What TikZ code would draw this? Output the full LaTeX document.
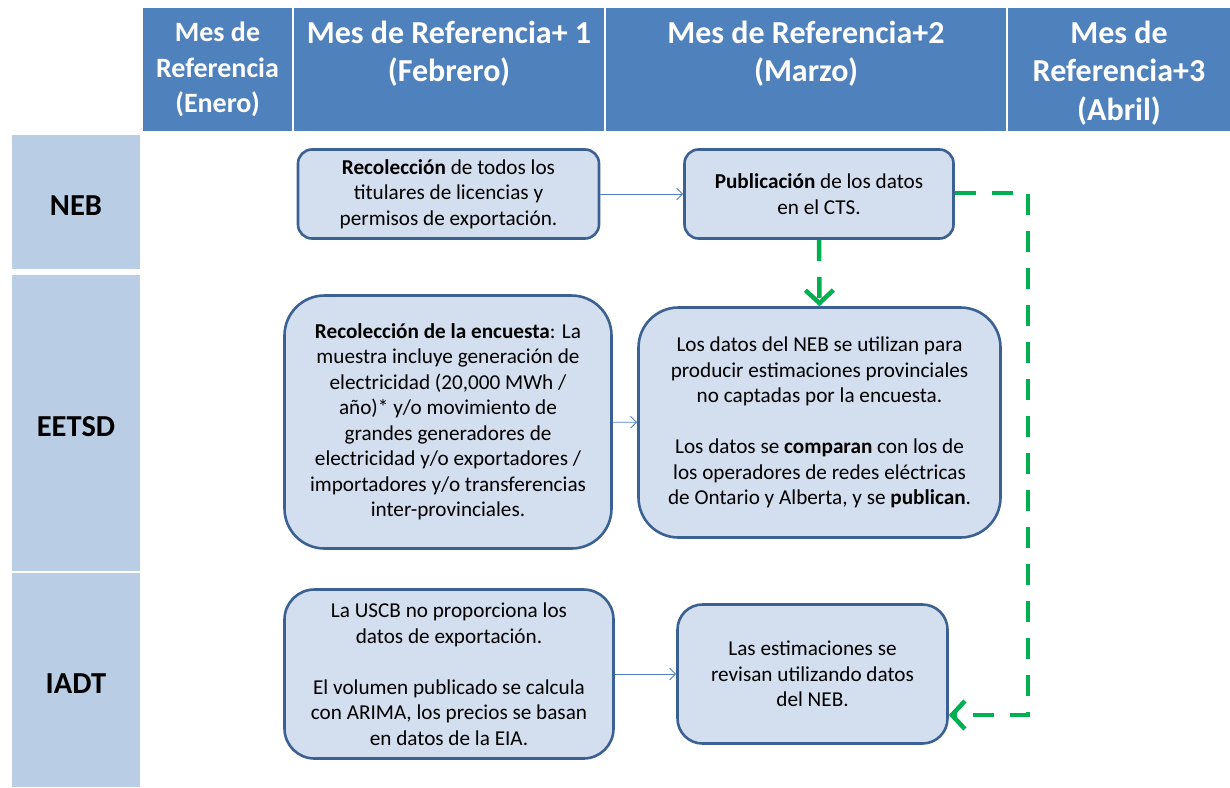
\documentclass[tikz,border=0pt]{standalone}
\usepackage{fontspec}
\setmainfont{Carlito}
\usetikzlibrary{arrows.meta, positioning}

\definecolor{hdrblue}{HTML}{4F81BD}
\definecolor{rowblue}{HTML}{B9CDE5}
\definecolor{boxfill}{HTML}{D3DFEE}
\definecolor{boxline}{HTML}{3B6193}
\definecolor{flowgreen}{HTML}{00B050}

\begin{document}
\begin{tikzpicture}[x=1pt, y=-1pt,
  hdr cell/.style={fill=hdrblue, minimum height=123, inner sep=0},
  hdr text/.style={text=white, font=\bfseries\fontsize{32}{38.5}\selectfont, align=center, inner sep=0},
  row cell/.style={fill=rowblue, minimum width=128, inner sep=0, text height=26pt, text depth=0pt, font=\bfseries\fontsize{30.5}{34}\selectfont},
  main box/.style={draw=boxline, line width=2.6pt, fill=boxfill, align=center, inner sep=0, font=\fontsize{21.2}{25.5}\selectfont},
  thin arrow/.style={draw=hdrblue, line width=0.9pt, -{Straight Barb[length=6pt, width=12pt]}},
  green link/.style={draw=flowgreen, line width=4.5pt, dash pattern=on 21pt off 16pt,
    -{Straight Barb[length=13pt, width=28pt, line width=4.5pt]}}]

\useasboundingbox (0,0) rectangle (1230,787);

% header row
\foreach \n/\cx/\w in {h0/217.5/149, h1/449/310, h2/806/400, h3/1119/222}{
  \node[hdr cell, minimum width=\w] (\n) at (\cx,69.5) {};}
\node[hdr text, font=\bfseries\fontsize{28}{35.5}\selectfont, below=14pt of h0.north] (t0) {Mes de\\Referencia\\(Enero)};
\node[hdr text, below=13pt of h1.north] (t1) {Mes de Referencia+ 1\\(Febrero)};
\node[hdr text, below=13pt of h2.north] (t2) {Mes de Referencia+2\\(Marzo)};
\node[hdr text, below=13pt of h3.north] (t3) {Mes de\\Referencia+3\\(Abril)};

% row labels
\foreach \n/\cy/\h in {NEB/202/134, EETSD/423/296, IADT/680/214}{
  \node[row cell, minimum height=\h] (\n) at (76,\cy) {\n};}

% boxes
\node[main box, rounded corners=14pt, minimum width=301, minimum height=89] (collect) at (448.5,194)
  {\textbf{Recolección} de todos los\\titulares de licencias y\\permisos de exportación.};
\node[main box, rounded corners=14pt, minimum width=269, minimum height=89] (publish) at (819,194)
  {\textbf{Publicación} de los datos\\en el CTS.};
\node[main box, rounded corners=40pt, minimum width=327, minimum height=253] (survey) at (448,422)
  {\textbf{Recolección de la encuesta}: La\\muestra incluye generación de\\electricidad (20,000 MWh /\\año)* y/o movimiento de\\grandes generadores de\\electricidad y/o exportadores /\\importadores y/o transferencias\\inter-provinciales.};
\node[main box, rounded corners=40pt, minimum width=362, minimum height=230] (estimate) at (819.5,422.5)
  {Los datos del NEB se utilizan para\\producir estimaciones provinciales\\no captadas por la encuesta.\\[25.5pt]Los datos se \textbf{comparan} con los de\\los operadores de redes eléctricas\\de Ontario y Alberta, y se \textbf{publican}.};
\node[main box, rounded corners=30pt, minimum width=329, minimum height=169] (uscb) at (449,674)
  {La USCB no proporciona los\\datos de exportación.\\[25.5pt]El volumen publicado se calcula\\con ARIMA, los precios se basan\\en datos de la EIA.};
\node[main box, rounded corners=25pt, minimum width=270, minimum height=139] (revise) at (812.5,674)
  {Las estimaciones se\\revisan utilizando datos\\del NEB.};

% connectors
\draw[thin arrow] (collect) -- (publish);
\draw[thin arrow] (survey) -- (estimate);
\draw[thin arrow] (uscb) -- (revise);
\coordinate (turn a) at (1028,193);
\coordinate (turn b) at (1028,715);
\draw[green link] (publish.south) -- (estimate.north);
\draw[green link] (publish.east |- turn a) -- (turn a) -- (turn b) -- (revise.east |- turn b);
\end{tikzpicture}
\end{document}
